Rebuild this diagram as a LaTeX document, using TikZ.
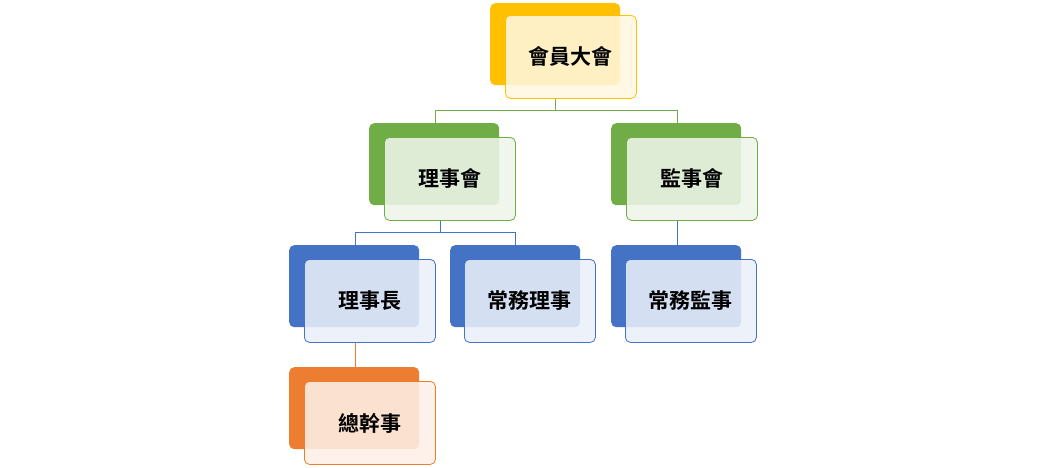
\documentclass[tikz,border=0pt]{standalone}
\usepackage{fontspec}
\newfontfamily\cjk{Noto Sans CJK TC Bold}
\begin{document}
\begin{tikzpicture}[x=1pt,y=-1pt,
  back/.style={draw=none,fill=#1,rounded corners=5pt,minimum width=130pt,minimum height=82pt,anchor=north west,inner sep=0},
  front/.style={draw=#1,fill=white,fill opacity=0.88,text opacity=1,rounded corners=5pt,minimum width=131pt,minimum height=83pt,anchor=north west,inner sep=0,font=\cjk\fontsize{21pt}{24pt}\selectfont,line width=0.8pt},
  link/.style={draw=#1,line width=0.8pt}]
\useasboundingbox (0,0) rectangle (1044,467);
\colorlet{cG}{rgb,255:red,255;green,192;blue,0}
\colorlet{cGr}{rgb,255:red,112;green,173;blue,71}
\colorlet{cB}{rgb,255:red,68;green,114;blue,196}
\colorlet{cO}{rgb,255:red,237;green,125;blue,49}
% connectors
\coordinate (j1) at (555,110);
\coordinate (j2) at (440,232);
\draw[link=cGr] (555,98) -- (j1) (435,110) -- (677,110) (435,110) -- (435,123) (677,110) -- (677,123);
\draw[link=cB] (j2) -- (440,220) (355,232) -- (515,232) (355,232) -- (355,245) (515,232) -- (515,245);
\draw[link=cB] (677,220) -- (677,245);
\draw[link=cO] (355,342) -- (355,367);
% boxes
\node[back=cG] (b0) at (490,3) {};
\node[front=cG,fill=cG!12] (n0) at (505,15) {會員大會};
\node[back=cGr] (b1) at (369,123) {};
\node[front=cGr,fill=cGr!12] (n1) at (384,137) {理事會};
\node[back=cGr] (b2) at (611,123) {};
\node[front=cGr,fill=cGr!12] (n2) at (626,137) {監事會};
\node[back=cB] (b3) at (289,245) {};
\node[front=cB,fill=cB!11] (n3) at (304,259) {理事長};
\node[back=cB] (b4) at (450,245) {};
\node[front=cB,fill=cB!11] (n4) at (464,259) {常務理事};
\node[back=cB] (b5) at (611,245) {};
\node[front=cB,fill=cB!11] (n5) at (625,259) {常務監事};
\node[back=cO] (b6) at (289,367) {};
\node[front=cO,fill=cO!12] (n6) at (304,381) {總幹事};
\end{tikzpicture}
\end{document}
